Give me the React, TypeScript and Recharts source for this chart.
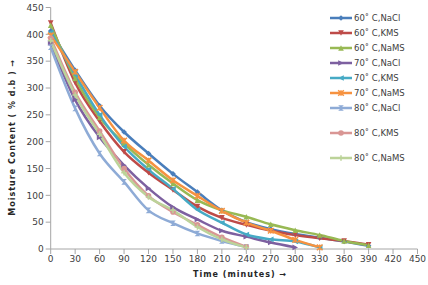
import React from "react";
import {
  Line,
  LineChart,
  XAxis,
  YAxis,
} from "recharts";

// Drying curves: moisture content vs time for three temperatures and three pre-treatments.

const TIMES = [0, 30, 60, 90, 120, 150, 180, 210, 240, 270, 300, 330, 360, 390];

const NACL_60 = [406, 333, 267, 218, 178, 140, 106, 72, 50, 37, 28, 21, 14, 6];
const KMS_60 = [421, 310, 238, 181, 142, 110, 79, 58, 45, 34, 26, 20, 15, 8];
const NAMS_60 = [417, 318, 245, 197, 157, 122, 91, 72, 60, 46, 35, 26, 15, 7];
const NACL_70 = [384, 278, 208, 156, 113, 78, 55, 34, 23, 12, 3];
const KMS_70 = [404, 325, 250, 191, 148, 112, 73, 49, 27, 18, 14, 3];
const NAMS_70 = [398, 330, 263, 202, 165, 128, 99, 71, 49, 34, 17, 3];
const NACL_80 = [376, 262, 178, 125, 72, 48, 29, 15, 4];
const KMS_80 = [393, 292, 220, 150, 99, 69, 45, 22, 4];
const NAMS_80 = [388, 287, 214, 142, 97, 72, 41, 18, 3];

const X_TICKS = [0, 30, 60, 90, 120, 150, 180, 210, 240, 270, 300, 330, 360, 390, 420, 450];
const Y_TICKS = [0, 50, 100, 150, 200, 250, 300, 350, 400, 450];

type Shape = "diamond" | "tdown" | "tup" | "tright" | "tleft" | "star" | "hour" | "circle" | "plus";

type Series = { key: string; label: string; values: number[]; color: string; shape: Shape };

const SERIES: Series[] = [
  { key: "nacl60", label: "60˚ C,NaCl", values: NACL_60, color: "#4a7ebb", shape: "diamond" },
  { key: "kms60", label: "60˚ C,KMS", values: KMS_60, color: "#be4b48", shape: "tdown" },
  { key: "nams60", label: "60˚ C,NaMS", values: NAMS_60, color: "#98b954", shape: "tup" },
  { key: "nacl70", label: "70˚ C,NaCl", values: NACL_70, color: "#7d60a0", shape: "tright" },
  { key: "kms70", label: "70˚ C,KMS", values: KMS_70, color: "#46aac5", shape: "tleft" },
  { key: "nams70", label: "70˚ C,NaMS", values: NAMS_70, color: "#f69240", shape: "star" },
  { key: "nacl80", label: "80˚ C,NaCl", values: NACL_80, color: "#8eabd6", shape: "hour" },
  { key: "kms80", label: "80˚ C,KMS", values: KMS_80, color: "#d99694", shape: "circle" },
  { key: "nams80", label: "80˚ C,NaMS", values: NAMS_80, color: "#bcd399", shape: "plus" },
];

const data = TIMES.map((t, i) => {
  const row: Record<string, number | undefined> = { t };
  SERIES.forEach((s) => {
    row[s.key] = s.values[i];
  });
  return row;
});

const FONT = "'DejaVu Sans', Verdana, sans-serif";
const AXIS = "#a6a6a6";

function marker(shape: Shape, cx: number, cy: number, color: string, r = 2.8) {
  switch (shape) {
    case "diamond":
      return <polygon points={`${cx},${cy - r} ${cx + r},${cy} ${cx},${cy + r} ${cx - r},${cy}`} fill={color} />;
    case "tdown":
      return <polygon points={`${cx - r},${cy - r} ${cx + r},${cy - r} ${cx},${cy + r}`} fill={color} />;
    case "tup":
      return <polygon points={`${cx - r},${cy + r} ${cx + r},${cy + r} ${cx},${cy - r}`} fill={color} />;
    case "tright":
      return <polygon points={`${cx - r},${cy - r} ${cx - r},${cy + r} ${cx + r},${cy}`} fill={color} />;
    case "tleft":
      return <polygon points={`${cx + r},${cy - r} ${cx + r},${cy + r} ${cx - r},${cy}`} fill={color} />;
    case "star":
      return (
        <path
          d={`M${cx - r},${cy - r}L${cx + r},${cy + r}M${cx + r},${cy - r}L${cx - r},${cy + r}M${cx},${cy - r}L${cx},${cy + r}`}
          stroke={color}
          strokeWidth={1.5}
        />
      );
    case "hour":
      return <polygon points={`${cx - r},${cy - r} ${cx + r},${cy - r} ${cx - r},${cy + r} ${cx + r},${cy + r}`} fill={color} />;
    case "circle":
      return <circle cx={cx} cy={cy} r={r} fill={color} />;
    case "plus":
      return (
        <path d={`M${cx - r},${cy}L${cx + r},${cy}M${cx},${cy - r}L${cx},${cy + r}`} stroke={color} strokeWidth={1.5} />
      );
  }
}

function dotFor(s: Series) {
  return (props: any) => {
    const { cx, cy, index } = props;
    if (cx == null || cy == null || props.value == null) return <g key={`${s.key}-${index}`} />;
    return <g key={`${s.key}-${index}`}>{marker(s.shape, cx, cy, s.color)}</g>;
  };
}

// Excel-style side legend; the last two rows sit a little further apart.
function SideLegend() {
  return (
    <div
      style={{
        position: "absolute",
        left: 330,
        top: 10,
        fontFamily: FONT,
        fontSize: 8.5,
        color: "#404040",
        background: "#fff",
      }}
    >
      {SERIES.map((s, i) => (
        <div
          key={s.key}
          style={{ display: "flex", alignItems: "center", height: 15, marginTop: i >= 7 ? 10 : 0 }}
        >
          <svg width={22} height={10} style={{ flexShrink: 0 }}>
            <line x1={0} y1={5} x2={22} y2={5} stroke={s.color} strokeWidth={2.5} />
            {marker(s.shape, 11, 5, s.color)}
          </svg>
          <span style={{ marginLeft: 2, whiteSpace: "nowrap" }}>{s.label}</span>
        </div>
      ))}
    </div>
  );
}

const yLabel = (props: any) => {
  const { viewBox } = props;
  const x = viewBox.x + 12;
  const y = viewBox.y + viewBox.height / 2 + 9;
  return (
    <text
      x={x}
      y={y}
      transform={`rotate(-90, ${x}, ${y})`}
      textAnchor="middle"
      dominantBaseline="central"
      fontFamily={FONT}
      fontSize={8}
      fontWeight="bold"
      letterSpacing={1}
      fill="#262626"
    >
      Moisture Content ( % d.b ) →
    </text>
  );
};

const xLabel = (props: any) => {
  const { viewBox } = props;
  const x = viewBox.x + viewBox.width / 2 + 6;
  const y = viewBox.y + 25;
  return (
    <text
      x={x}
      y={y}
      textAnchor="middle"
      dominantBaseline="central"
      fontFamily={FONT}
      fontSize={8}
      fontWeight="bold"
      letterSpacing={1}
      fill="#262626"
    >
      Time (minutes) →
    </text>
  );
};

export default function App() {
  return (
    <div style={{ position: "absolute", left: 0, top: 0, width: 428, height: 285, background: "#fff" }}>
      <LineChart width={428} height={285} data={data} margin={{ top: 7.5, right: 10.5, bottom: 0, left: 0 }}>
        <XAxis
          dataKey="t"
          type="number"
          domain={[0, 450]}
          ticks={X_TICKS}
          interval={0}
          height={36}
          tickSize={5}
          stroke={AXIS}
          tick={{ fontSize: 9, fontFamily: FONT, fill: "#404040" }}
          label={xLabel}
        />
        <YAxis
          type="number"
          domain={[0, 450]}
          ticks={Y_TICKS}
          interval={0}
          width={50.7}
          tickSize={5}
          stroke={AXIS}
          tick={{ fontSize: 9, fontFamily: FONT, fill: "#404040" }}
          label={yLabel}
        />
        {SERIES.map((s) => (
          <Line
            key={s.key}
            dataKey={s.key}
            name={s.label}
            type="monotone"
            stroke={s.color}
            strokeWidth={2.5}
            dot={dotFor(s)}
            activeDot={false}
            isAnimationActive={false}
          />
        ))}
      </LineChart>
      <SideLegend />
    </div>
  );
}
